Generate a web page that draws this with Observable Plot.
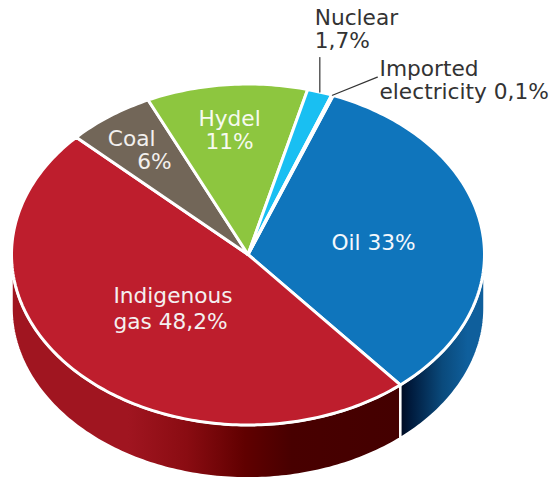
<!DOCTYPE html>
<html>
<head>
<meta charset="utf-8">
<script src="https://cdn.jsdelivr.net/npm/d3@7"></script>
<script src="https://cdn.jsdelivr.net/npm/@observablehq/plot@0.6"></script>
<style>
  html, body { margin: 0; padding: 0; background: #fff; }
  svg { display: block; }
</style>
</head>
<body>
<script>
// Energy mix shares, in percent, clockwise from the oil slice.
const sources = ["Oil", "Indigenous gas", "Coal", "Hydel", "Nuclear", "Imported electricity"];
const shares = [33, 48.2, 6, 11, 1.7, 0.1];
const colors = ["#0f75bc", "#be1e2d", "#726658", "#8dc63f", "#19bff2", "#d8f0fa"];

// Text placed inside the disc or beside it, in disc units (1 = rim).
const labelText = ["Indigenous\ngas 48,2%", "Oil 33%", "Hydel\n11%", "Coal", "6%", "Nuclear\n1,7%", "Imported\nelectricity 0,1%"];
const labelX = [-0.569, 0.531, -0.078, -0.593, -0.323, 0.282, 0.556];
const labelY = [-0.31, 0.07, 0.731, 0.678, 0.544, 1.322, 1.02];
const labelAnchor = ["start", "middle", "middle", "start", "end", "start", "start"];
const labelFill = ["#f4f0f0", "#f4f8fc", "#f6faf0", "#f2f0ee", "#f2f0ee", "#333333", "#333333"];
const labelLeading = [1.24, 1.06, 1.06, 1.06, 1.06, 1.06, 1.06];

// Leader lines run from a slice's rim to the end point given here.
const leaderSource = ["Nuclear", "Imported electricity"];
const leaderEndX = [null, 0.547];
const leaderEndY = [1.155, 1.04];

const firstAngle = 21.1;   // degrees clockwise from twelve o'clock
const depth = 0.313;       // thickness of the disc, in disc units
const toRad = Math.PI / 180;

const rim = (deg, drop = 0) => ({x: Math.sin(deg * toRad), y: Math.cos(deg * toRad) - drop});

function arc(from, to, drop = 0) {
  const n = Math.max(2, Math.ceil(Math.abs(to - from)));
  return d3.range(n + 1).map((i) => rim(from + (to - from) * i / n, drop));
}

// Turn the shares into angular extents.
let running = firstAngle;
const slices = sources.map((name, i) => {
  const start = running;
  running += shares[i] * 3.6;
  return {name, start, end: running, color: colors[i]};
});
const bySource = new Map(slices.map((s) => [s.name, s]));

const face = (s) => {
  const pts = [{x: 0, y: 0}, ...arc(s.start, s.end), {x: 0, y: 0}];
  return Plot.line(pts, {x: "x", y: "y", fill: s.color, stroke: "white", strokeWidth: 3, strokeLinejoin: "round", curve: "linear"});
};

// The visible wall of a slice: its arc, clipped to the front half, extruded downward.
const wall = (s, fill) => {
  const from = Math.max(s.start, 90), to = Math.min(s.end, 270);
  const pts = [...arc(from, to), ...arc(to, from, depth)];
  pts.push(pts[0]);
  return Plot.line(pts, {x: "x", y: "y", fill, stroke: "white", strokeWidth: 2.5, curve: "linear"});
};

function gradient(id, stops) {
  const svgNS = "http://www.w3.org/2000/svg";
  const g = document.createElementNS(svgNS, "linearGradient");
  g.setAttribute("id", id);
  for (const [offset, color] of stops) {
    const s = document.createElementNS(svgNS, "stop");
    s.setAttribute("offset", offset);
    s.setAttribute("stop-color", color);
    g.appendChild(s);
  }
  return g;
}

const wallGradients = () => {
  const d = document.createElementNS("http://www.w3.org/2000/svg", "defs");
  d.appendChild(gradient("wall-gas", [[0, "#a01520"], [0.3, "#a01520"], [0.45, "#8a0c12"], [0.6, "#600000"], [0.72, "#480000"], [1, "#440000"]]));
  d.appendChild(gradient("wall-oil", [[0, "#000a20"], [0.12, "#001a3c"], [0.5, "#0a4a7c"], [0.8, "#0f5f9c"], [1, "#0f5f9c"]]));
  return d;
};

const leaderData = leaderSource.flatMap((name, i) => {
  const s = bySource.get(name);
  const a = rim((s.start + s.end) / 2);
  return [{name, ...a}, {name, x: leaderEndX[i] ?? a.x, y: leaderEndY[i]}];
});

const labels = labelText.map((text, i) => ({
  text, x: labelX[i], y: labelY[i], anchor: labelAnchor[i], fill: labelFill[i], leading: labelLeading[i]
}));

const chart = Plot.plot({
  width: 550,
  height: 477,
  margin: 0,
  x: {domain: [-247.5 / 236.5, 302.5 / 236.5], axis: null},
  y: {domain: [-223 / 170.5, 254 / 170.5], axis: null},
  color: {type: "identity"},
  style: {background: "white"},
  marks: [
    wallGradients,
    wall(bySource.get("Indigenous gas"), "url(#wall-gas)"),
    wall(bySource.get("Oil"), "url(#wall-oil)"),
    ...slices.map(face),
    Plot.line(leaderData, {x: "x", y: "y", z: "name", stroke: "#333333", strokeWidth: 1.2, curve: "linear"}),
    ...labels.map((d) =>
      Plot.text([d], {
        x: "x", y: "y", text: "text", fill: d.fill, textAnchor: d.anchor,
        fontSize: 21.7, lineHeight: d.leading, fontFamily: "DejaVu Sans"
      }))
  ]
});
document.body.appendChild(chart);
</script>
</body>
</html>
